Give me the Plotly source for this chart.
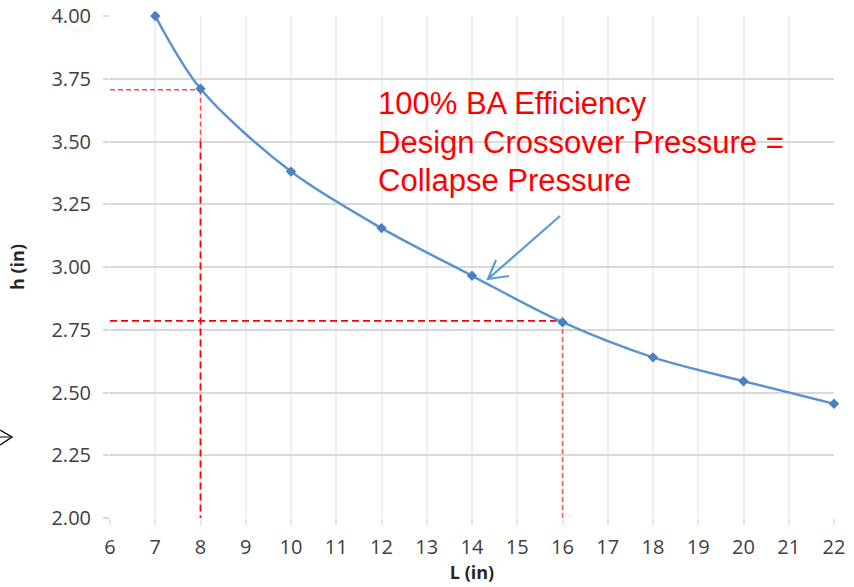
import plotly.graph_objects as go

# Data
L_vals = [7, 8, 10, 12, 14, 16, 18, 20, 22]
h_vals = [4.00, 3.71, 3.38, 3.155, 2.965, 2.78, 2.64, 2.545, 2.455]

# Crossover reference points (red dashed guide lines)
cross_L = [8, 16]
cross_h = [3.706, 2.785]

x_ticks = list(range(6, 23))
y_ticks = [2.00, 2.25, 2.50, 2.75, 3.00, 3.25, 3.50, 3.75, 4.00]
y_labels = [f"{v:.2f}" for v in y_ticks]

note_lines = ["100% BA Efficiency", "Design Crossover Pressure =", "Collapse Pressure"]

fig = go.Figure()

RED = "#ff0000"
RED_LIGHT = "#ff4d4d"
# Guide lines for first crossover (thin horizontal, vertical thin then thick)
fig.add_trace(go.Scatter(x=[6, cross_L[0]], y=[cross_h[0], cross_h[0]], mode="lines",
                         line=dict(color=RED_LIGHT, width=1.4, dash="5px,3px"),
                         hoverinfo="skip", showlegend=False))
fig.add_trace(go.Scatter(x=[cross_L[0], cross_L[0]], y=[cross_h[0], 3.5], mode="lines",
                         line=dict(color=RED_LIGHT, width=1.4, dash="5px,3px"),
                         hoverinfo="skip", showlegend=False))
fig.add_trace(go.Scatter(x=[cross_L[0], cross_L[0]], y=[3.5, 2.0], mode="lines",
                         line=dict(color=RED, width=1.8, dash="7px,4px"),
                         hoverinfo="skip", showlegend=False))
# Second crossover (thick horizontal, thin vertical)
fig.add_trace(go.Scatter(x=[6, cross_L[1]], y=[cross_h[1], cross_h[1]], mode="lines",
                         line=dict(color=RED, width=1.8, dash="7px,4px"),
                         hoverinfo="skip", showlegend=False))
fig.add_trace(go.Scatter(x=[cross_L[1], cross_L[1]], y=[cross_h[1], 2.0], mode="lines",
                         line=dict(color=RED_LIGHT, width=1.4, dash="5px,3px"),
                         hoverinfo="skip", showlegend=False))

# Main curve
fig.add_trace(go.Scatter(x=L_vals, y=h_vals, mode="lines+markers",
                         line=dict(color="#5b93d0", width=2.5, shape="spline", smoothing=0.9),
                         marker=dict(symbol="diamond", size=8, color="#4a80c2"),
                         cliponaxis=False, showlegend=False))

# Annotation text, one line each
PX_W, PX_H = 724, 502
def px(xp, yp):
    return (xp - 110) / PX_W, (518 - yp) / PX_H

for i, line in enumerate(note_lines):
    xa, ya = px(376, 104 + 38 * i)
    fig.add_annotation(xref="paper", yref="paper", x=xa, y=ya,
                       xanchor="left", yanchor="middle", align="left", showarrow=False,
                       text=line,
                       font=dict(family="Liberation Sans, Arial", size=31, color=RED))

# Blue arrow pointing to curve (shaft + open head)
BLUE = "#5b9bd5"
tail = px(560, 216)
tip = px(488, 279)
barb1 = px(496, 260)
barb2 = px(509, 276)
fig.add_shape(type="line", xref="paper", yref="paper", x0=tail[0], y0=tail[1], x1=tip[0], y1=tip[1],
              line=dict(color=BLUE, width=2.2))
fig.add_shape(type="path", xref="paper", yref="paper",
              path="M %f %f L %f %f L %f %f" % (barb1[0], barb1[1], tip[0], tip[1], barb2[0], barb2[1]),
              line=dict(color=BLUE, width=2.2))

# Stray black arrowhead at far left
a1, a2, a3 = px(0, 430), px(12, 437), px(0, 445)
s1, s2 = px(0, 437), px(10, 437)
fig.add_shape(type="path", xref="paper", yref="paper",
              path="M %f %f L %f %f L %f %f" % (a1[0], a1[1], a2[0], a2[1], a3[0], a3[1]),
              line=dict(color="black", width=1.4))
fig.add_shape(type="line", xref="paper", yref="paper",
              x0=s1[0], y0=s1[1], x1=s2[0], y1=s2[1], line=dict(color="black", width=1.0))

fig.update_layout(
    width=854, height=587,
    margin=dict(l=110, r=20, t=16, b=69, autoexpand=False),
    paper_bgcolor="white", plot_bgcolor="white",
    font=dict(family="Open Sans, Liberation Sans", color="#404040"),
    xaxis=dict(range=[6, 22], tickmode="array", tickvals=x_ticks,
               showgrid=True, gridcolor="#efefef", gridwidth=1.5,
               ticks="outside", ticklen=6, tickcolor="#e6e6e6", tickwidth=1.5,
               showline=False, zeroline=False, automargin=False, ticklabelstandoff=5,
               tickfont=dict(size=20, color="#404040"),
               title=dict(text="<b>L (in)</b>", font=dict(size=18, color="#262626"), standoff=6)),
    yaxis=dict(range=[2.0, 4.0], tickmode="array", tickvals=y_ticks, ticktext=y_labels,
               showgrid=True, gridcolor="#d9d9d9", gridwidth=1.5,
               ticks="outside", ticklen=6, tickcolor="#d9d9d9", tickwidth=1.5,
               showline=False, zeroline=False, ticklabelstandoff=8, automargin=False,
               tickfont=dict(size=20, color="#404040"),
               title=dict(text="<b>h (in)</b>", font=dict(size=18, color="#262626"), standoff=22)),
)

fig.write_html("out.html")
